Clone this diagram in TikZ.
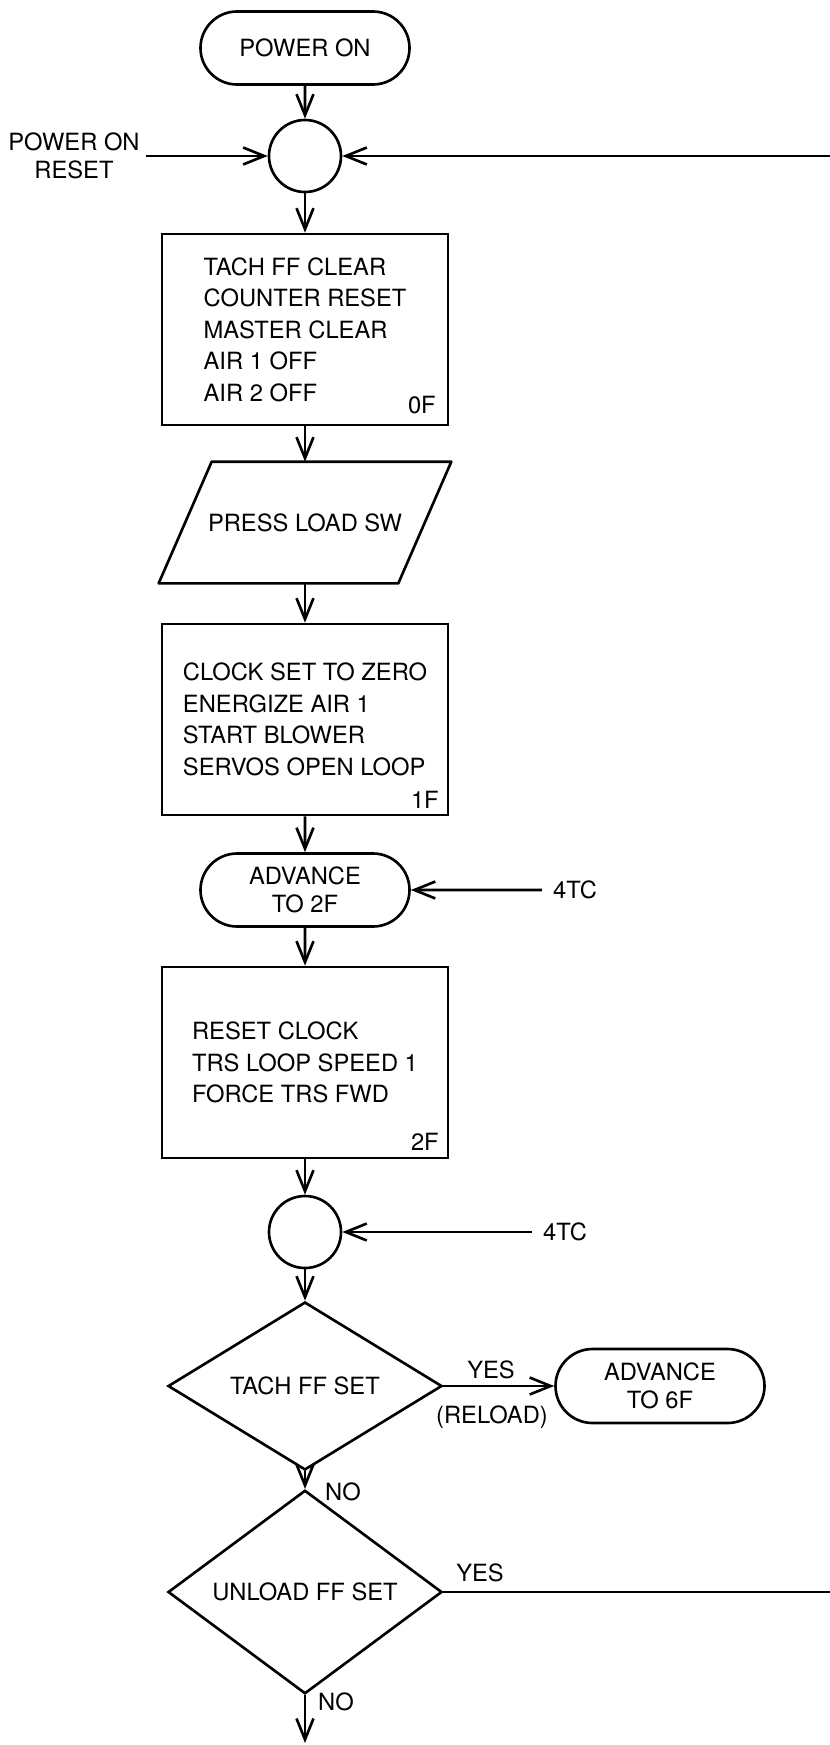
\documentclass[tikz,border=0pt]{standalone}
\usepackage{fontspec}
\setmainfont{TeX Gyre Heros}
\usetikzlibrary{shapes.geometric,shapes.misc,arrows.meta}

\begin{document}
\begin{tikzpicture}[
  font=\fontsize{13.5}{17.9}\selectfont,
  line width=1.5pt,
  term/.style={draw, rounded rectangle, minimum width=4.18cm, minimum height=1.46cm, inner sep=0, align=center, font=\fontsize{13.5}{15.9}\selectfont},
  junc/.style={draw, circle, minimum size=1.44cm, inner sep=0},
  stepbox/.style={draw, rectangle, minimum width=5.72cm, minimum height=3.82cm, align=left},
  loadbox/.style={rectangle, minimum width=4.74cm, minimum height=2.38cm, inner sep=0},
  decide/.style={draw, diamond, minimum width=5.48cm, minimum height=3.36cm, inner sep=0},
  note/.style={inner sep=0.2cm},
  tagf/.style={anchor=base east, inner sep=0},
  flow/.style={-{Straight Barb[length=0.42cm,width=0.34cm]}}
]
\useasboundingbox (0.000000, 0.000000) rectangle (16.600000, -34.900000);
\node[term] (pwr) at (6.100000, -0.960000) {POWER ON};
\node[junc] (junc1) at (6.100000, -3.120000) {};
\node[inner sep=0.1cm, align=center, font=\fontsize{13.5}{15.9}\selectfont] (rst) at (1.480000, -3.120000) {POWER ON\\RESET};
\coordinate (ret1) at (16.600000, -3.120000);
\node[stepbox] (box0) at (6.100000, -6.590000) {TACH FF CLEAR\\COUNTER RESET\\MASTER CLEAR\\AIR 1 OFF\\AIR 2 OFF};
\node[tagf] (tag0) at (8.740000, -8.260000) {0F};
\node[loadbox] (load) at (6.100000, -10.450000) {PRESS LOAD SW};
\draw[line join=round] ([xshift=0.53cm]load.north west) -- ([xshift=0.53cm]load.north east) -- ([xshift=-0.53cm]load.south east) -- ([xshift=-0.53cm]load.south west) -- cycle;
\node[stepbox] (box1) at (6.100000, -14.390000) {CLOCK SET TO ZERO\\ENERGIZE AIR 1\\START BLOWER\\SERVOS OPEN LOOP};
\node[tagf] (tag1) at (8.800000, -16.160000) {1F};
\node[term] (adv2) at (6.100000, -17.800000) {ADVANCE\\TO 2F};
\node[note] (tc1) at (11.500000, -17.800000) {4TC};
\node[stepbox] (box2) at (6.100000, -21.250000) {RESET CLOCK\\TRS LOOP SPEED 1\\FORCE TRS FWD};
\node[tagf] (tag2) at (8.800000, -23.000000) {2F};
\node[junc] (junc2) at (6.100000, -24.640000) {};
\node[note] (tc2) at (11.300000, -24.640000) {4TC};
\node[decide] (dec1) at (6.100000, -27.720000) {TACH FF SET};
\node[term, minimum height=1.48cm] (adv6) at (13.200000, -27.720000) {ADVANCE\\TO 6F};
\node[inner sep=0] (yes1) at (9.820000, -27.400000) {YES};
\node[inner sep=0] (reload) at (9.840000, -28.340000) {(RELOAD)};
\node[inner sep=0] (no1) at (6.860000, -29.840000) {NO};
\node[decide] (dec2) at (6.100000, -31.840000) {UNLOAD FF SET};
\coordinate (ret2) at (16.600000, -31.840000);
\node[inner sep=0] (yes2) at (9.600000, -31.460000) {YES};
\node[inner sep=0] (no2) at (6.720000, -34.040000) {NO};
\coordinate (out) at (6.100000, -34.860000);
\draw[flow] (pwr) -- (junc1);
\draw[flow] (rst) -- (junc1);
\draw[flow] (ret1) -- (junc1);
\draw[flow] (junc1) -- (box0);
\draw[flow] (box0) -- (load.north);
\draw[flow] (load.south) -- (box1);
\draw[flow] (box1) -- (adv2);
\draw[flow] (tc1) -- (adv2);
\draw[flow] (adv2) -- (box2);
\draw[flow] (box2) -- (junc2);
\draw[flow] (tc2) -- (junc2);
\draw[flow] (junc2) -- (dec1);
\draw[flow] (dec1) -- (adv6);
\draw[flow] (dec1) -- (dec2);
\draw (dec2.east) -- (ret2);
\draw[flow] (dec2) -- (out);
\end{tikzpicture}
\end{document}
